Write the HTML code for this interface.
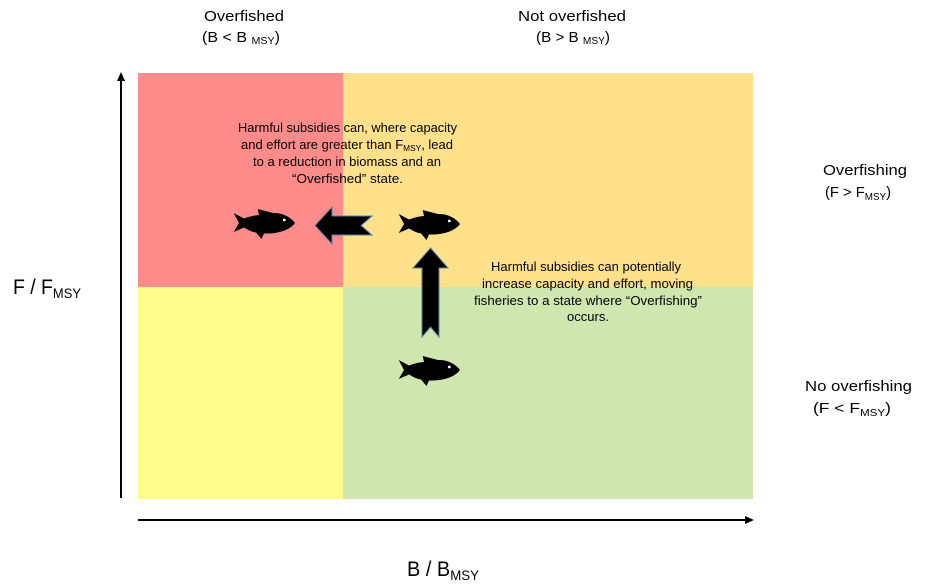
<!DOCTYPE html>
<html>
<head>
<meta charset="utf-8">
<style>
  html, body { margin: 0; padding: 0; background: #ffffff; }
  svg { display: block; }
  text { font-family: "Liberation Sans", "DejaVu Sans", sans-serif; fill: #000; }
</style>
</head>
<body>
<svg width="936" height="587" viewBox="0 0 936 587" xmlns="http://www.w3.org/2000/svg">
  <defs>
    <g id="fish">
      <path d="M11,10.5 L0.7,5 L6,15 L0.7,24 L11,19.5 C15,22 19,24 23,24.5 L28.5,31 L31,25.5 C45,26 57,22 62,15 C57,8 48,4.5 40,5 L24.7,1 L26,7 C20,7.5 15,9 11,10.5 Z" fill="#000"/>
      <circle cx="51.3" cy="12" r="1.4" fill="#fff"/>
    </g>
  </defs>

  <!-- quadrants -->
  <rect x="138" y="73" width="205" height="214" fill="#FF8B8A"/>
  <rect x="343" y="73" width="410" height="214" fill="#FFE08B"/>
  <rect x="138" y="287" width="205" height="212" fill="#FFFD88"/>
  <rect x="343" y="287" width="410" height="212" fill="#CFE7AF"/>

  <!-- axes -->
  <line x1="121" y1="80" x2="121" y2="498" stroke="#000" stroke-width="2"/>
  <polygon points="121,72 117,81 125,81" fill="#000"/>
  <line x1="138" y1="520" x2="747" y2="520" stroke="#000" stroke-width="2"/>
  <polygon points="754,520 745,516 745,524" fill="#000"/>

  <!-- top labels -->
  <text x="204" y="21" font-size="15" textLength="80" lengthAdjust="spacingAndGlyphs">Overfished</text>
  <text x="202" y="42" font-size="15" textLength="78" lengthAdjust="spacingAndGlyphs">(B &lt; B <tspan font-size="10" dy="2">MSY</tspan><tspan dy="-2">)</tspan></text>
  <text x="518" y="21" font-size="15" textLength="108" lengthAdjust="spacingAndGlyphs">Not overfished</text>
  <text x="536" y="42" font-size="15" textLength="74" lengthAdjust="spacingAndGlyphs">(B &gt; B <tspan font-size="10" dy="2">MSY</tspan><tspan dy="-2">)</tspan></text>

  <!-- right labels -->
  <text x="823" y="175" font-size="15" textLength="84" lengthAdjust="spacingAndGlyphs">Overfishing</text>
  <text x="825" y="197" font-size="15" textLength="66" lengthAdjust="spacingAndGlyphs">(F &gt; F<tspan font-size="10" dy="3">MSY</tspan><tspan dy="-3">)</tspan></text>
  <text x="805" y="391" font-size="15" textLength="107" lengthAdjust="spacingAndGlyphs">No overfishing</text>
  <text x="813" y="413" font-size="15" textLength="78" lengthAdjust="spacingAndGlyphs">(F &lt; F<tspan font-size="10" dy="3">MSY</tspan><tspan dy="-3">)</tspan></text>

  <!-- axis labels -->
  <text x="13" y="294" font-size="21" textLength="68" lengthAdjust="spacingAndGlyphs">F / F<tspan font-size="14" dy="4">MSY</tspan></text>
  <text x="407" y="576" font-size="21" textLength="72" lengthAdjust="spacingAndGlyphs">B / B<tspan font-size="14" dy="4">MSY</tspan></text>

  <!-- text box 1 -->
  <text x="238" y="132" font-size="12.5" textLength="219" lengthAdjust="spacingAndGlyphs">Harmful subsidies can, where capacity</text>
  <text x="241" y="149" font-size="12.5" textLength="212" lengthAdjust="spacingAndGlyphs">and effort are greater than F<tspan font-size="8" dy="2">MSY</tspan><tspan dy="-2">, lead</tspan></text>
  <text x="253" y="166" font-size="12.5" textLength="188" lengthAdjust="spacingAndGlyphs">to a reduction in biomass and an</text>
  <text x="292" y="183" font-size="12.5" textLength="111" lengthAdjust="spacingAndGlyphs">“Overfished” state.</text>

  <!-- text box 2 -->
  <text x="491" y="271" font-size="12.5" textLength="190" lengthAdjust="spacingAndGlyphs">Harmful subsidies can potentially</text>
  <text x="482" y="288" font-size="12.5" textLength="211" lengthAdjust="spacingAndGlyphs">increase capacity and effort, moving</text>
  <text x="474" y="305" font-size="12.5" textLength="228" lengthAdjust="spacingAndGlyphs">fisheries to a state where “Overfishing”</text>
  <text x="567" y="321" font-size="12.5" textLength="42" lengthAdjust="spacingAndGlyphs">occurs.</text>

  <!-- fish -->
  <use href="#fish" x="233" y="208"/>
  <use href="#fish" x="398" y="209"/>
  <use href="#fish" x="398" y="355"/>

  <!-- arrows -->
  <path d="M315,225.5 L332,207 L332,216 L372,216 L361,225.5 L372,235 L332,235 L332,244 Z" fill="#000" stroke="#5A7FA8" stroke-width="1"/>
  <path d="M430.5,248 L448,268 L439,268 L439,337 L430.5,327 L422,337 L422,268 L413,268 Z" fill="#000" stroke="#5A7FA8" stroke-width="1"/>
</svg>
</body>
</html>
